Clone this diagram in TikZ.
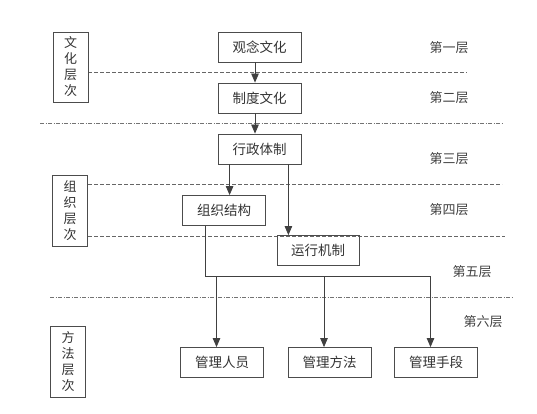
\documentclass[tikz,border=0pt]{standalone}
\usepackage{fontspec}
\setmainfont{Noto Sans CJK SC}
\usetikzlibrary{arrows.meta, positioning, calc}
\tikzset{
  >=latex,
  % boxes
  box/.style={draw=black!70,line width=0.8pt,minimum width=83pt,minimum height=30pt,inner sep=0,
    font=\fontsize{13.5}{15}\selectfont,text=black!80},
  level box/.style={draw=black!70,line width=0.8pt,minimum width=35pt,minimum height=70pt,inner sep=0,
    align=center,font=\fontsize{13}{16}\selectfont,text=black!80},
  layer/.style={font=\fontsize{13}{15}\selectfont,text=black!75},
  % connectors
  flow/.style={-{Triangle[length=9pt,width=7.5pt]},line width=0.8pt,black!75},
  link/.style={line width=0.8pt,black!75},
  sep dash/.style={dash pattern=on 4pt off 2pt,line width=0.8pt,black!60},
  sep dot/.style={dash pattern=on 4pt off 1.5pt on 1pt off 1.5pt,line width=0.8pt,black!55}
}

\begin{document}
\begin{tikzpicture}[x=1pt,y=-1pt]
  \useasboundingbox (0,0) rectangle (537,414);
  % layer separators
  \draw[sep dash] (88,72) -- (467,72);
  \draw[sep dot] (40,123) -- (503,123);
  \draw[sep dash] (88,184) -- (502,184);
  \draw[sep dash] (88,236) -- (505,236);
  \draw[sep dot] (50,297) -- (513,297);
  % level boxes on the left
  \node[level box] (wenhua) at (70.5,67) {文\\化\\层\\次};
  \node[level box,minimum height=71pt] (zuzhiL) at (70,210.5) {组\\织\\层\\次};
  \node[level box,minimum height=71pt] (fangfaL) at (68,361.5) {方\\法\\层\\次};
  % main boxes
  \node[box] (guannian) at (259.5,47) {观念文化};
  \node[box] (zhidu) at (259.5,98) {制度文化};
  \node[box] (xingzheng) at (259.5,149) {行政体制};
  \node[box] (zuzhi) at (224,210.5) {组织结构};
  \node[box,minimum width=82pt] (yunxing) at (318,250.5) {运行机制};
  \node[box] (renyuan) at (222,362.5) {管理人员};
  \node[box] (fangfa) at (329.5,362.5) {管理方法};
  \node[box] (shouduan) at (436,362.5) {管理手段};
  % layer names
  \node[layer] (l1) at (449,48) {第一层};
  \node[layer] (l2) at (449,98) {第二层};
  \node[layer] (l3) at (449,159) {第三层};
  \node[layer] (l4) at (449,210) {第四层};
  \node[layer] (l5) at (472,272) {第五层};
  \node[layer] (l6) at (483,322) {第六层};
  % arrows
  \draw[flow] ([xshift=-4.5pt]guannian.south) -- ([xshift=-4.5pt]zhidu.north);
  \draw[flow] ([xshift=-4.5pt]zhidu.south) -- ([xshift=-4.5pt]xingzheng.north);
  \draw[flow] ([xshift=12pt]xingzheng.south west) coordinate (a) -- (a |- zuzhi.north);
  \draw[flow] ([xshift=-13pt]xingzheng.south east) coordinate (b) -- (b |- yunxing.north);
  % bus down to the method level
  \coordinate (bus) at (0,276);
  \foreach \n in {renyuan,fangfa,shouduan}
    \path ([xshift=-5.5pt]\n.north) coordinate (t\n);
  \draw[link] ([xshift=23pt]zuzhi.south west) |- (tshouduan |- bus);
  \foreach \n in {renyuan,fangfa,shouduan}
    \draw[flow] (t\n |- bus) -- (t\n);
\end{tikzpicture}
\end{document}
